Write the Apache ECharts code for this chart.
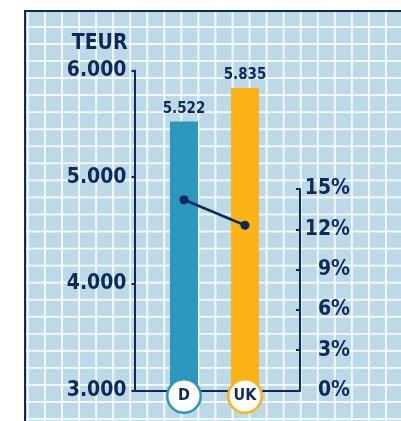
<!DOCTYPE html>
<html style="height: 100%; margin: 0">
<head>
<meta charset="UTF-8">
<title>TEUR D / UK</title>
<style>
  body { height: 100%; margin: 0; background: #fff; position: relative; overflow: hidden; }
  #panel {
    position: absolute; left: 24px; top: 10px; right: 0; bottom: 0;
    border-left: 2px solid #0e2a5a; border-top: 2px solid #0e2a5a;
    background-color: #bcd9e7;
    background-image:
      linear-gradient(to right, rgba(255,255,255,0.85) 2px, transparent 2px),
      linear-gradient(to bottom, rgba(255,255,255,0.85) 2px, transparent 2px);
    background-size: 17.05px 17.05px;
    background-position: 1px 14px;
  }
  #container { position: absolute; left: 0; top: 0; width: 401px; height: 421px; }
</style>
</head>
<body>
<div id="panel"></div>
<div id="container"></div>
<script type="text/javascript" src="https://cdn.jsdelivr.net/npm/echarts@6/dist/echarts.min.js"></script>
<script type="text/javascript">
	// data
	var categories = ['D', 'UK'];
	var teur = [5522, 5835];
	var pct = [14.2, 12.3];
	var leftTicks = [3000, 4000, 5000, 6000];
	var rightTicks = [0, 3, 6, 9, 12, 15];

	var navy = '#0e2a5a';
	var barColors = ['#2e97bd', '#fcb316'];
	var font = "'DejaVu Sans Condensed', 'Liberation Sans Narrow', sans-serif";

	function fmt(v) {
	    return String(v).replace(/\B(?=(\d{3})+(?!\d))/g, '.');
	}
	function circle(c) {
	    return {
	        width: 31, height: 31, lineHeight: 31, borderRadius: 17,
	        backgroundColor: '#fff', borderColor: c, borderWidth: 2.5,
	        align: 'center', color: navy, fontSize: 16, fontWeight: 'bold', fontFamily: font
	    };
	}

	var dom = document.getElementById("container");
	var myChart = echarts.init(dom);
	var option = {
	    animation: false,
	    textStyle: { fontFamily: font },
	    grid: [
	        { left: 153.5, right: 125.5, top: 70.5, bottom: 30.5 },
	        { left: 153.5, right: 125.5, top: 189, bottom: 30.5 },
	        { left: 134.5, right: 101, top: 189, bottom: 30.5 }
	    ],
	    xAxis: [
	        {
	            gridIndex: 0, type: 'category', data: categories, z: 10,
	            axisLine: { show: false }, axisTick: { show: false },
	            axisLabel: {
	                interval: 0, margin: -10,
	                formatter: function (v) { return '{' + v + '|' + v + '}'; },
	                rich: { D: circle(barColors[0]), UK: circle(barColors[1]) }
	            }
	        },
	        { gridIndex: 1, type: 'category', data: categories, show: false },
	        {
	            gridIndex: 2, type: 'category', data: categories,
	            axisLine: { lineStyle: { color: navy, width: 2 } },
	            axisTick: { show: false }, axisLabel: { show: false }
	        }
	    ],
	    yAxis: [
	        {
	            gridIndex: 0, type: 'value', position: 'left', offset: 19,
	            min: leftTicks[0], max: leftTicks[leftTicks.length - 1], interval: 1000,
	            name: 'TEUR', nameLocation: 'end', nameGap: 16,
	            nameTextStyle: {
	                color: navy, fontSize: 21, fontWeight: 'bold', fontFamily: font,
	                align: 'right', verticalAlign: 'bottom', padding: [0, 7, 0, 0]
	            },
	            axisLine: { show: true, lineStyle: { color: navy, width: 2 } },
	            axisTick: { show: true, length: 3, lineStyle: { color: navy, width: 2 } },
	            axisLabel: {
	                margin: 8, color: navy, fontSize: 21, fontWeight: 'bold', fontFamily: font,
	                formatter: fmt
	            },
	            splitLine: { show: false }
	        },
	        {
	            gridIndex: 1, type: 'value', min: 0, max: 15, show: false
	        },
	        {
	            gridIndex: 2, type: 'value', position: 'right',
	            min: rightTicks[0], max: rightTicks[rightTicks.length - 1], interval: 3,
	            axisLine: { show: true, lineStyle: { color: navy, width: 2 } },
	            axisTick: { show: true, inside: true, length: 4, lineStyle: { color: navy, width: 2 } },
	            axisLabel: {
	                margin: 50, align: 'right', color: navy, fontSize: 21, fontWeight: 'bold', fontFamily: font,
	                formatter: '{value}%'
	            },
	            splitLine: { show: false }
	        }
	    ],
	    series: [
	        {
	            name: 'TEUR', type: 'bar', xAxisIndex: 0, yAxisIndex: 0,
	            barWidth: 28,
	            data: teur.map(function (v, i) {
	                return { value: v, itemStyle: { color: barColors[i] } };
	            }),
	            label: {
	                show: true, position: 'top', distance: 5,
	                color: navy, fontSize: 15, fontWeight: 'bold', fontFamily: font,
	                formatter: function (p) { return fmt(p.value); }
	            }
	        },
	        {
	            name: '%', type: 'line', xAxisIndex: 1, yAxisIndex: 1,
	            data: pct, symbol: 'circle', symbolSize: 9,
	            lineStyle: { color: navy, width: 2.5 },
	            itemStyle: { color: navy },
	            z: 5
	        }
	    ]
	};
	myChart.setOption(option, true);
</script>
</body>
</html>
